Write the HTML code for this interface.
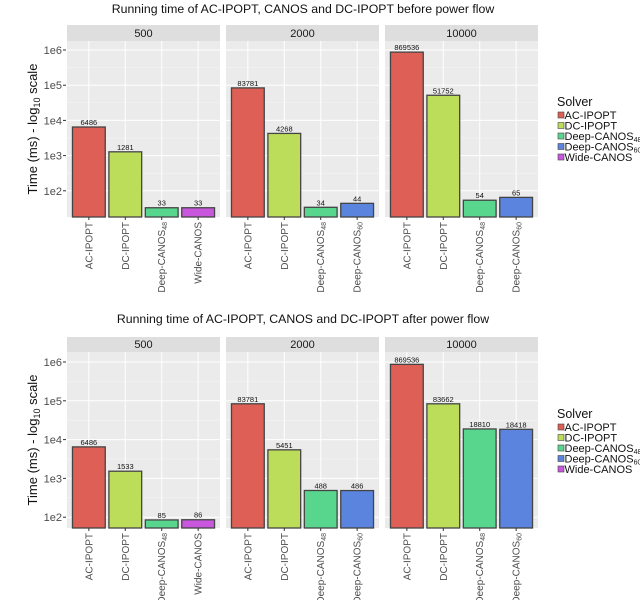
<!DOCTYPE html>
<html><head><meta charset="utf-8"><style>
body{margin:0;background:#fff;}
svg{display:block;font-family:"Liberation Sans","DejaVu Sans",sans-serif;}
</style></head><body>
<svg id="chart" width="640" height="600" viewBox="0 0 640 600"></svg>
<script>
const facets = ["500","2000","10000"];
const catsByFacet = [
  ["AC-IPOPT","DC-IPOPT","Deep-CANOS48","Wide-CANOS"],
  ["AC-IPOPT","DC-IPOPT","Deep-CANOS48","Deep-CANOS60"],
  ["AC-IPOPT","DC-IPOPT","Deep-CANOS48","Deep-CANOS60"]
];
const beforeValues = [[6486,1281,33,33],[83781,4268,34,44],[869536,51752,54,65]];
const afterValues = [[6486,1533,85,86],[83781,5451,488,486],[869536,83662,18810,18418]];
const tickExps = [2,3,4,5,6];
const tickLabels = ["1e2","1e3","1e4","1e5","1e6"];
const solvers = ["AC-IPOPT","DC-IPOPT","Deep-CANOS48","Deep-CANOS60","Wide-CANOS"];
const solverColors = {"AC-IPOPT":"#dd5f55","DC-IPOPT":"#bcdd5a","Deep-CANOS48":"#58d68e","Deep-CANOS60":"#5a84dd","Wide-CANOS":"#c957dd"};

const svg = document.getElementById('chart');
const NS = "http://www.w3.org/2000/svg";
function mk(tag, attrs, parent){const e=document.createElementNS(NS,tag);for(const k in attrs)e.setAttribute(k,attrs[k]);(parent||svg).appendChild(e);return e;}
function addLabel(el, t, subSize){
  const m = t.match(/^(Deep-CANOS)(\d+)$/);
  el.appendChild(document.createTextNode(m ? m[1] : t));
  if(m){const s=document.createElementNS(NS,'tspan');s.setAttribute('font-size',subSize);s.setAttribute('dy','2');s.textContent=m[2];el.appendChild(s);}
}

const panelX = [[67,220],[226,379],[385,538]];

function drawChart(cfg, values){
  const g = mk('g',{});
  
  
  const title = mk('text',{x:303,y:cfg.titleY,'text-anchor':'middle','font-size':'12.3',fill:'#111'},g);
  title.textContent = cfg.title;
  
  
  const yOf = v => cfg.y6 + (6 - Math.log10(v)) * cfg.dec;
  const yt = mk('text',{x:0,y:0,'text-anchor':'middle','font-size':'13',fill:'#111',transform:`translate(37,${(cfg.top+cfg.bottom)/2}) rotate(-90)`},g);
  yt.appendChild(document.createTextNode('Time (ms) - log'));
  const ys=document.createElementNS(NS,'tspan');ys.setAttribute('font-size','9');ys.setAttribute('dy','3');ys.textContent='10';yt.appendChild(ys);
  const ys2=document.createElementNS(NS,'tspan');ys2.setAttribute('dy','-3');ys2.textContent=' scale';yt.appendChild(ys2);
  
  
  tickExps.forEach((e,i)=>{
    const y = yOf(Math.pow(10,e));
    const t = mk('text',{x:62,y:y+4,'text-anchor':'end','font-size':'11',fill:'#4d4d4d'},g);
    t.textContent = tickLabels[i];
    
    
    mk('line',{x1:63,x2:66,y1:y,y2:y,stroke:'#333','stroke-width':1},g);
  });
  facets.forEach((f,fi)=>{
    const [x0,x1] = panelX[fi];
    const pw = x1-x0, unit = pw/4.2;
    const strip = mk('rect',{x:x0,y:cfg.stripTop,width:pw,height:cfg.top-cfg.stripTop,fill:'#dedede'},g);
    
    
    const st = mk('text',{x:(x0+x1)/2,y:cfg.top-4,'text-anchor':'middle','font-size':'11',fill:'#1a1a1a'},g);
    st.textContent = f;
    
    
    const bg = mk('rect',{x:x0,y:cfg.top,width:pw,height:cfg.bottom-cfg.top,fill:'#ebebeb'},g);
    
    
    for(let e=2;e<=6;e++){const y=yOf(Math.pow(10,e));mk('line',{x1:x0,x2:x1,y1:y,y2:y,stroke:'#fff','stroke-width':1},g);
      if(e<6){const ym=yOf(Math.pow(10,e+0.5));mk('line',{x1:x0,x2:x1,y1:ym,y2:ym,stroke:'#f5f5f5','stroke-width':0.5},g);}}
    catsByFacet[fi].forEach((c,ci)=>{
      const cx = x0 + (0.6+ci)*unit;
      mk('line',{x1:cx,x2:cx,y1:cfg.top,y2:cfg.bottom,stroke:'#fff','stroke-width':1},g);
    });
    catsByFacet[fi].forEach((c,ci)=>{
      const v = values[fi][ci];
      const cx = x0 + (0.6+ci)*unit, bw = unit*0.9;
      const y = yOf(v);
      const bar = mk('rect',{x:cx-bw/2,y:y,width:bw,height:cfg.bottom-y,fill:solverColors[c],stroke:'#444','stroke-width':1.3},g);
      
      
      const vl = mk('text',{x:cx,y:y-2,'text-anchor':'middle','font-size':'7.5',fill:'#111'},g);
      vl.textContent = String(v);
      
      
      mk('line',{x1:cx,x2:cx,y1:cfg.bottom,y2:cfg.bottom+3,stroke:'#333','stroke-width':1},g);
      const xl = mk('text',{x:0,y:0,'text-anchor':'end','font-size':'10','textLength':'','fill':'#4d4d4d',transform:`translate(${cx+3.5},${cfg.bottom+5}) rotate(-90)`},g);
      xl.removeAttribute('textLength');
      addLabel(xl,c,'7');
      
      
    });
  });
  const lt = mk('text',{x:557,y:cfg.legY,'font-size':'12.5',fill:'#111'},g);
  lt.textContent='Solver';
  
  
  solvers.forEach((s,i)=>{
    const y = cfg.legY+9+i*10.5;
    const k = mk('rect',{x:558,y:y-3,width:6,height:6,fill:solverColors[s],stroke:'#444','stroke-width':0.6},g);
    
    
    const t = mk('text',{x:564.5,y:y+4,'font-size':'11',fill:'#111'},g);
    addLabel(t,s,'7');
    
    
  });
}
drawChart({name:'chart-before',title:'Running time of AC-IPOPT, CANOS and DC-IPOPT before power flow',titleY:13,stripTop:25,top:41,bottom:217,y6:50,dec:35.2,legY:106},beforeValues);
drawChart({name:'chart-after',title:'Running time of AC-IPOPT, CANOS and DC-IPOPT after power flow',titleY:323,stripTop:337,top:352,bottom:528,y6:362,dec:38.8,legY:418},afterValues);
</script>
</body></html>
